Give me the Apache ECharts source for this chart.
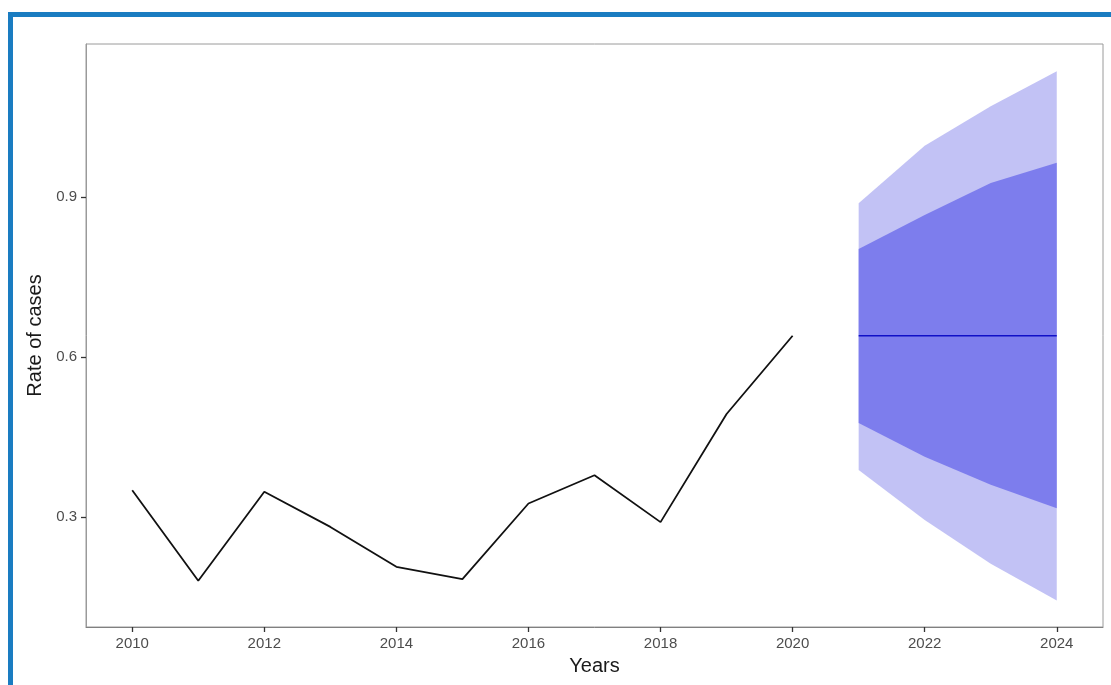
<!DOCTYPE html>
<html>
<head>
<meta charset="utf-8">
<title>Rate of cases</title>
<script src="https://cdn.jsdelivr.net/npm/echarts@6/dist/echarts.min.js"></script>
<style>
  html, body { margin: 0; padding: 0; background: #ffffff; }
  #chart { width: 1111px; height: 685px; }
</style>
</head>
<body>
<div id="chart"></div>
<script>
// Observed series
const years = [2010, 2011, 2012, 2013, 2014, 2015, 2016, 2017, 2018, 2019, 2020];
const rate = [0.350, 0.180, 0.347, 0.281, 0.206, 0.183, 0.325, 0.378, 0.290, 0.493, 0.640];

// Forecast with 80% and 95% intervals
const forecastYears = [2021, 2022, 2023, 2024];
const pointForecast = [0.640, 0.640, 0.640, 0.640];
const lo80 = [0.476, 0.413, 0.360, 0.316];
const hi80 = [0.803, 0.867, 0.927, 0.965];
const lo95 = [0.388, 0.294, 0.212, 0.143];
const hi95 = [0.889, 0.997, 1.071, 1.137];

// Axis ticks
const xTicks = [2010, 2012, 2014, 2016, 2018, 2020, 2022, 2024];
const yTicks = [0.3, 0.6, 0.9];

const pairs = (xs, ys) => xs.map((x, i) => [x, ys[i]]);

// One row per forecast year: [year, lower, upper]
const bandRows = (lo, hi) => forecastYears.map((x, i) => [x, lo[i], hi[i]]);

// Interval band drawn as one polygon (upper edge, then lower edge reversed)
function bandSeries(lo, hi, color, z) {
  const rows = bandRows(lo, hi);
  return {
    type: 'custom',
    data: rows,
    encode: { x: 0, y: [1, 2] },
    renderItem: function (params, api) {
      if (params.dataIndex !== 0) return null;
      const upper = rows.map(r => api.coord([r[0], r[2]]));
      const lower = rows.map(r => api.coord([r[0], r[1]])).reverse();
      return {
        type: 'polygon',
        shape: { points: upper.concat(lower) },
        style: { fill: color, stroke: null }
      };
    },
    silent: true,
    z: z
  };
}

const chart = echarts.init(document.getElementById('chart'), null, { renderer: 'canvas' });

const fontFamily = 'Liberation Sans, Arial, sans-serif';
const tickLabel = { color: '#4d4d4d', fontSize: 15, fontFamily: fontFamily };
const titleStyle = { color: '#1a1a1a', fontSize: 20, fontFamily: fontFamily };

chart.setOption({
  animation: false,
  backgroundColor: '#ffffff',
  graphic: [
    // outer blue frame
    { type: 'rect', shape: { x: 8, y: 12, width: 1110, height: 5 }, style: { fill: '#1a7cc1' }, z: 100 },
    { type: 'rect', shape: { x: 8, y: 12, width: 5, height: 680 }, style: { fill: '#1a7cc1' }, z: 100 }
  ],
  grid: {
    left: 86, right: 8, top: 44, bottom: 58,
    show: true, borderColor: '#9a9a9a', borderWidth: 1, backgroundColor: '#ffffff'
  },
  xAxis: {
    type: 'value',
    min: 2009.3, max: 2024.7,
    name: 'Years',
    nameLocation: 'middle',
    nameGap: 29,
    nameTextStyle: titleStyle,
    splitLine: { show: false },
    axisLine: { show: true, lineStyle: { color: '#808080', width: 1 } },
    axisTick: { show: true, length: 5, lineStyle: { color: '#333333', width: 1.3 }, customValues: xTicks },
    axisLabel: Object.assign({ margin: 9, customValues: xTicks, formatter: v => String(v) }, tickLabel)
  },
  yAxis: {
    type: 'value',
    min: 0.093, max: 1.188,
    name: 'Rate of cases',
    nameLocation: 'middle',
    nameGap: 41,
    nameTextStyle: titleStyle,
    splitLine: { show: false },
    axisLine: { show: true, lineStyle: { color: '#9a9a9a', width: 1 } },
    axisTick: { show: true, length: 5, lineStyle: { color: '#333333', width: 1.3 }, customValues: yTicks },
    axisLabel: Object.assign({ margin: 9, customValues: yTicks, formatter: v => v.toFixed(1) }, tickLabel)
  },
  series: [
    // 95% interval band
    bandSeries(lo95, hi95, '#c2c2f5', 1),
    // 80% interval band
    bandSeries(lo80, hi80, '#7d7ded', 2),
    // point forecast
    {
      type: 'line', data: pairs(forecastYears, pointForecast),
      symbol: 'none', lineStyle: { color: '#1010c8', width: 1.6 }, z: 3
    },
    // observed rate
    {
      type: 'line', data: pairs(years, rate),
      symbol: 'none', lineStyle: { color: '#111111', width: 1.8 }, z: 4
    }
  ]
});
</script>
</body>
</html>
